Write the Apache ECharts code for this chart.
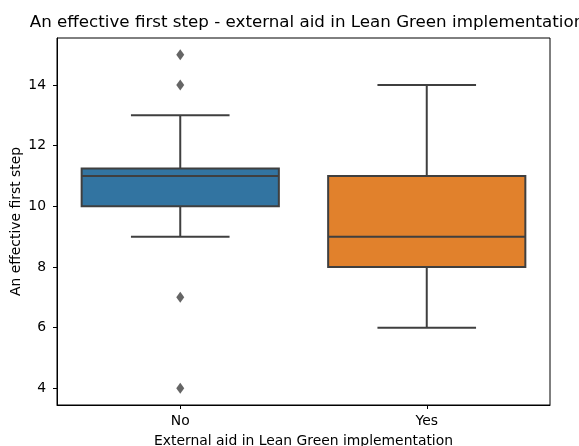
<!DOCTYPE html>
<html>
<head>
<meta charset="utf-8">
<script src="https://cdn.jsdelivr.net/npm/echarts@6/dist/echarts.min.js"></script>
<style>
html,body{margin:0;padding:0;background:#fff;}
#chart{width:579px;height:446px;}
</style>
</head>
<body>
<div id="chart"></div>
<script>
// ---- data ----
var categories = ['No', 'Yes'];
var whiskerLow = [9, 6];
var q1 = [10, 8];
var median = [11, 9];
var q3 = [11.25, 11];
var whiskerHigh = [13, 14];
var outlierCategory = ['No', 'No', 'No', 'No'];
var outlierValue = [15, 14, 7, 4];
var yTicks = [4, 6, 8, 10, 12, 14];
var boxColors = ['#3274a1', '#e1812c'];

var titleText = 'An effective first step - external aid in Lean Green implementation';
var xName = 'External aid in Lean Green implementation';
var yName = 'An effective first step';

var boxData = categories.map(function (c, i) {
  return [i, whiskerLow[i], q1[i], median[i], q3[i], whiskerHigh[i]];
});
var outlierData = outlierCategory.map(function (c, i) {
  return [categories.indexOf(c), outlierValue[i]];
});

var LINE = '#3f3f3f';
var FONT = 'DejaVu Sans';

var chart = echarts.init(document.getElementById('chart'));
chart.setOption({
  backgroundColor: '#fff',
  animation: false,
  title: {
    text: titleText,
    left: 302, top: 9,
    textAlign: 'center',
    textStyle: {fontFamily: FONT, fontSize: 16.7, fontWeight: 'normal', color: '#000'}
  },
  grid: {
    left: 57, right: 29, top: 38, bottom: 41,
    outerBoundsMode: 'none',
    containLabel: false,
    show: true, borderColor: '#000', borderWidth: 1, backgroundColor: 'transparent'
  },
  xAxis: {
    type: 'category',
    data: categories,
    boundaryGap: true,
    name: xName,
    nameLocation: 'middle',
    nameGap: 29,
    nameMoveOverlap: false,
    nameTextStyle: {fontFamily: FONT, fontSize: 13.9, color: '#000'},
    axisLine: {show: true, lineStyle: {color: '#000', width: 1}},
    axisTick: {show: true, alignWithLabel: true, length: 4, lineStyle: {color: '#000'}},
    axisLabel: {fontFamily: FONT, fontSize: 13.9, color: '#000', margin: 9},
    splitLine: {show: false}
  },
  yAxis: {
    type: 'value',
    min: 3.45,
    max: 15.55,
    name: yName,
    nameLocation: 'middle',
    nameGap: 34,
    nameMoveOverlap: false,
    nameTextStyle: {fontFamily: FONT, fontSize: 13.9, color: '#000'},
    axisLine: {show: true, lineStyle: {color: '#000', width: 1}},
    axisTick: {show: true, length: 4, customValues: yTicks, lineStyle: {color: '#000'}},
    axisLabel: {fontFamily: FONT, fontSize: 13.9, color: '#000', margin: 11, customValues: yTicks},
    splitLine: {show: false}
  },
  series: [
    {
      type: 'custom',
      data: boxData,
      encode: {x: 0, y: [1, 2, 3, 4, 5]},
      renderItem: function (params, api) {
        var idx = api.value(0);
        var bw = api.size([1, 0])[0] * 0.8;
        var cx = api.coord([idx, api.value(3)])[0];
        var yMin = api.coord([idx, api.value(1)])[1];
        var yQ1 = api.coord([idx, api.value(2)])[1];
        var yMed = api.coord([idx, api.value(3)])[1];
        var yQ3 = api.coord([idx, api.value(4)])[1];
        var yMax = api.coord([idx, api.value(5)])[1];
        var ls = {stroke: LINE, lineWidth: 2, fill: null};
        return {
          type: 'group',
          children: [
            {type: 'line', shape: {x1: cx, y1: yQ1, x2: cx, y2: yMin}, style: ls},
            {type: 'line', shape: {x1: cx, y1: yQ3, x2: cx, y2: yMax}, style: ls},
            {type: 'line', shape: {x1: cx - bw / 4, y1: yMin, x2: cx + bw / 4, y2: yMin}, style: ls},
            {type: 'line', shape: {x1: cx - bw / 4, y1: yMax, x2: cx + bw / 4, y2: yMax}, style: ls},
            {type: 'rect', shape: {x: cx - bw / 2, y: yQ3, width: bw, height: yQ1 - yQ3},
              style: {fill: boxColors[idx], stroke: LINE, lineWidth: 2}},
            {type: 'line', shape: {x1: cx - bw / 2, y1: yMed, x2: cx + bw / 2, y2: yMed}, style: ls}
          ]
        };
      }
    },
    {
      type: 'scatter',
      data: outlierData,
      symbol: 'diamond',
      symbolSize: [8, 11],
      itemStyle: {color: LINE}
    }
  ]
});
</script>
</body>
</html>
